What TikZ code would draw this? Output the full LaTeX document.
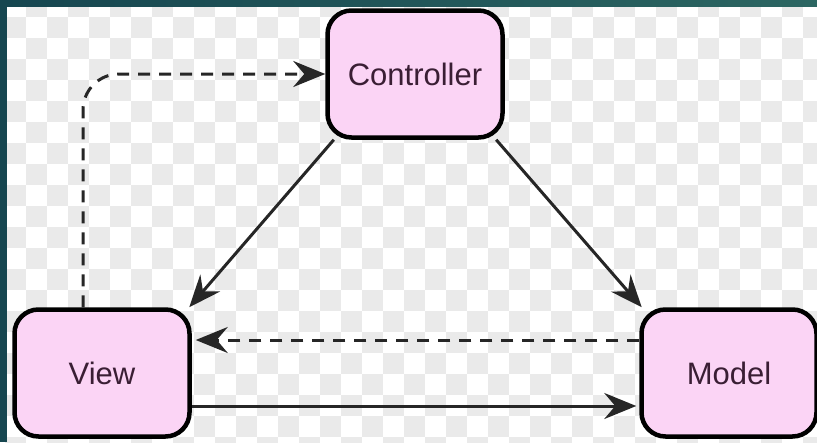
\documentclass[tikz,border=0pt]{standalone}
\usepackage{fontspec}
\setmainfont{Liberation Sans}
\usepackage{tikz}
\usetikzlibrary{positioning, arrows.meta, calc}

\begin{document}
\begin{tikzpicture}[x=1pt, y=-1pt,
    part/.style={draw=black, line width=4.5pt, rectangle, rounded corners=24pt,
                 fill=partC, minimum width=175pt, minimum height=127pt,
                 text=txtC, font=\fontsize{31}{36}\selectfont},
    arr/.style={-{Stealth[length=32pt, width=26pt, inset=11pt]}, line width=3pt, draw=black!85},
    dasharr/.style={arr, dash pattern=on 12pt off 9pt},
    cell/.style={fill=checkC, draw=none},
]

% Color definitions
\definecolor{partC}{RGB}{251,212,245}
\definecolor{txtC}{RGB}{58,30,52}
\definecolor{edgeL}{RGB}{22,70,80}
\definecolor{edgeR}{RGB}{44,102,98}
\definecolor{checkC}{RGB}{234,234,234}

% Background and frame
\useasboundingbox (0,0) rectangle (817,442);
\fill[white] (0,0) rectangle (817,442);
\foreach \i in {0,2,...,40} {
  \foreach \j in {0,2,...,22} {
    \path[cell] ({\i*21-16},{\j*21-4}) rectangle ++(21,21);
    \path[cell] ({\i*21+5},{\j*21+17}) rectangle ++(21,21);
  }
}
\shade[left color=edgeL, right color=edgeR] (0,0) rectangle (817,6);
\fill[edgeL] (0,0) rectangle (7,442);

% Parts of the pattern
\node[part] (ctrl) at (415,74) {Controller};
\node[part] (view) at (102,373) {View};
\node[part] (model) at (729,373) {Model};

% Arrows
\draw[arr] (ctrl.219) -- (view.37);
\draw[arr] (ctrl.321) -- (model.143);
\draw[dasharr] ([yshift=33pt]model.west) -- ([yshift=33pt,xshift=4pt]view.east);
\draw[arr] ([yshift=-33pt]view.east) -- ([yshift=-33pt,xshift=-3pt]model.west);
\draw[dasharr, rounded corners=36pt] ([xshift=-19pt]view.north) |- (ctrl.west);

\end{tikzpicture}
\end{document}
